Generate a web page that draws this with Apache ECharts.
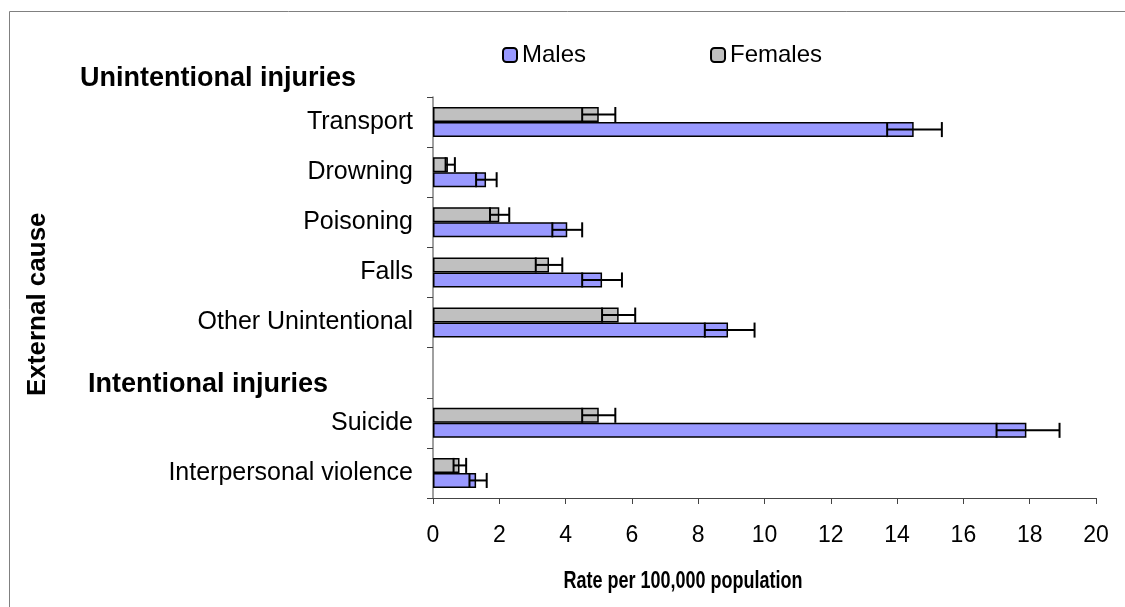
<!DOCTYPE html>
<html lang="en">
<head>
<meta charset="UTF-8">
<title>External cause injury rates</title>
<script src="https://cdn.jsdelivr.net/npm/echarts@6/dist/echarts.min.js"></script>
<style>
html, body { margin: 0; padding: 0; background: #fff; }
#chart { width: 1125px; height: 607px; }
</style>
</head>
<body>
<div id="chart"></div>
<script>
// data
const causes = ['Transport', 'Drowning', 'Poisoning', 'Falls', 'Other Unintentional', '', 'Suicide', 'Interpersonal violence'];
const males = [14.5, 1.6, 4.05, 5.1, 8.9, '-', 17.9, 1.3];
const maleLow = [13.7, 1.3, 3.6, 4.5, 8.2, '-', 17.0, 1.1];
const maleHigh = [15.35, 1.92, 4.5, 5.7, 9.7, '-', 18.9, 1.62];
const females = [5.0, 0.45, 2.0, 3.5, 5.6, '-', 5.0, 0.8];
const femaleLow = [4.5, 0.38, 1.72, 3.1, 5.1, '-', 4.5, 0.62];
const femaleHigh = [5.5, 0.66, 2.3, 3.9, 6.1, '-', 5.5, 1.0];
const xTicks = [0, 2, 4, 6, 8, 10, 12, 14, 16, 18, 20];

const sans = '"Liberation Sans", Arial, sans-serif';
const boldFont = 'bold 27px "Liberation Sans", Arial, sans-serif';

function errData(lo, hi) {
  const out = [];
  for (let i = 0; i < lo.length; i++) {
    if (lo[i] === '-') continue;
    out.push([lo[i], hi[i], i]);
  }
  return out;
}

// sign: -1 puts the whisker on the upper bar of the pair, +1 on the lower
function errRender(sign) {
  return function (params, api) {
    const cat = api.value(2);
    const lo = api.coord([api.value(0), cat]);
    const hi = api.coord([api.value(1), cat]);
    const band = api.size([0, 1])[1];
    const bw = band * 0.6 / 2;
    const y = lo[1] + sign * bw / 2;
    const h = bw / 2;
    const style = { stroke: '#000', lineWidth: 2 };
    return {
      type: 'group',
      children: [
        { type: 'line', shape: { x1: lo[0], y1: y, x2: hi[0], y2: y }, style: style },
        { type: 'line', shape: { x1: lo[0], y1: y - h, x2: lo[0], y2: y + h }, style: style },
        { type: 'line', shape: { x1: hi[0], y1: y - h, x2: hi[0], y2: y + h }, style: style }
      ]
    };
  };
}

const chart = echarts.init(document.getElementById('chart'));
chart.setOption({
  animation: false,
  grid: { left: 433, right: 29, top: 97, bottom: 109 },
  legend: {
    data: ['Males', 'Females'],
    left: 497, top: 38,
    itemWidth: 14, itemHeight: 14, itemGap: 124,
    textStyle: { fontFamily: sans, fontSize: 24, color: '#000' }
  },
  xAxis: {
    type: 'value',
    min: 0, max: 20, interval: 2,
    splitLine: { show: false },
    axisLine: { show: true, lineStyle: { color: '#444', width: 1 } },
    axisTick: { show: true, length: 6, lineStyle: { color: '#444' } },
    axisLabel: {
      margin: 26, fontFamily: sans, fontSize: 23, color: '#000',
      formatter: function (v) { return xTicks.indexOf(v) >= 0 ? String(v) : ''; }
    }
  },
  yAxis: {
    type: 'category',
    data: causes,
    inverse: true,
    axisLine: { show: true, lineStyle: { color: '#808080', width: 1.5 } },
    axisTick: { show: true, length: 6, lineStyle: { color: '#404040', width: 1 } },
    axisLabel: { margin: 20, fontFamily: sans, fontSize: 25, color: '#000' }
  },
  graphic: [
    { type: 'rect', silent: true, shape: { x: 9.5, y: 11.5, width: 1120, height: 610 },
      style: { fill: 'none', stroke: '#808080', lineWidth: 1 } },
    { type: 'text', left: 80, top: 65,
      style: { text: 'Unintentional injuries', font: boldFont, fill: '#000' } },
    { type: 'text', left: 88, top: 371,
      style: { text: 'Intentional injuries', font: boldFont, fill: '#000' } },
    { type: 'text', rotation: Math.PI / 2, x: 25, y: 396,
      style: { text: 'External cause', font: 'bold 26px "Liberation Sans", Arial, sans-serif', fill: '#000' } },
    // x axis title, narrow like the original
    { type: 'text', x: 683, y: 581, scaleX: 0.75,
      style: { text: 'Rate per 100,000 population', font: 'bold 24px "Liberation Sans", Arial, sans-serif',
        fill: '#000', align: 'center', verticalAlign: 'middle' } }
  ],
  series: [
    {
      name: 'Females', type: 'bar', data: females,
      barGap: '0%', barCategoryGap: '40%',
      itemStyle: { color: '#C0C0C0', borderColor: '#000', borderWidth: 1.5 }
    },
    {
      name: 'Males', type: 'bar', data: males,
      barGap: '0%', barCategoryGap: '40%',
      itemStyle: { color: '#9999FF', borderColor: '#000', borderWidth: 1.5 }
    },
    {
      name: 'Females err', type: 'custom', renderItem: errRender(-1),
      encode: { x: [0, 1], y: 2 }, data: errData(femaleLow, femaleHigh), z: 5, silent: true
    },
    {
      name: 'Males err', type: 'custom', renderItem: errRender(1),
      encode: { x: [0, 1], y: 2 }, data: errData(maleLow, maleHigh), z: 5, silent: true
    }
  ]
});
</script>
</body>
</html>
